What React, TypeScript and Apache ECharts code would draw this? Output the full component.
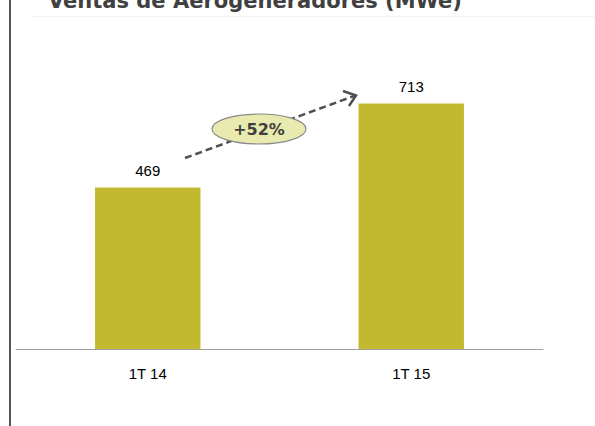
import React, { useEffect, useRef } from "react";
import * as echarts from "echarts";

const categories = ["1T 14", "1T 15"];
const values = [469, 713];
const growthLabel = "+52%";
const title = "Ventas de Aerogeneradores (MWe)";

export default function App() {
  const ref = useRef<HTMLDivElement>(null);
  useEffect(() => {
    const chart = echarts.init(ref.current!, null, { renderer: "svg" });
    chart.setOption({
      animation: false,
      backgroundColor: "#ffffff",
      grid: { left: 16, right: 52, top: 39, bottom: 77 },
      xAxis: {
        type: "category",
        data: categories,
        axisLine: { lineStyle: { color: "#a0a0a0", width: 1 } },
        axisTick: { show: false },
        axisLabel: { color: "#000", fontSize: 15, fontFamily: "Liberation Sans", margin: 17 },
      },
      yAxis: { type: "value", min: 0, max: 900, show: false, splitLine: { show: false } },
      series: [
        {
          type: "bar",
          data: values,
          barWidth: "40%",
          itemStyle: { color: "#C2B930" },
          label: {
            show: true,
            position: "top",
            distance: 9,
            color: "#000",
            fontSize: 15,
            fontFamily: "Liberation Sans",
          },
        },
      ],
      graphic: [
        { type: "line", shape: { x1: 10, y1: 0, x2: 10, y2: 426 }, style: { stroke: "#555", lineWidth: 2 } },
        { type: "line", shape: { x1: 32, y1: 16.5, x2: 595, y2: 16.5 }, style: { stroke: "#f2f2f2", lineWidth: 1 } },
        {
          type: "text",
          x: 48,
          y: -10,
          style: { text: title, fill: "#404040", font: "bold 21px 'DejaVu Sans'" },
        },
        {
          type: "line",
          shape: { x1: 185, y1: 158, x2: 354, y2: 96 },
          style: { stroke: "#505050", lineWidth: 2.5, lineDash: [7, 4] },
        },
        {
          type: "polyline",
          shape: { points: [[343, 91], [356, 95.5], [349, 106]] },
          style: { stroke: "#505050", lineWidth: 2.5, fill: null },
        },
        {
          type: "ellipse",
          shape: { cx: 259, cy: 129, rx: 47, ry: 15 },
          style: { fill: "#E8EAB0", stroke: "#8a8a8a", lineWidth: 1.2 },
        },
        {
          type: "text",
          x: 259,
          y: 129,
          style: {
            text: growthLabel,
            fill: "#404040",
            font: "bold 16px 'DejaVu Sans'",
            align: "center",
            verticalAlign: "middle",
          },
        },
      ],
    });
    return () => chart.dispose();
  }, []);
  return <div ref={ref} style={{ width: 595, height: 426, position: "fixed", left: 0, top: 0 }} />;
}
